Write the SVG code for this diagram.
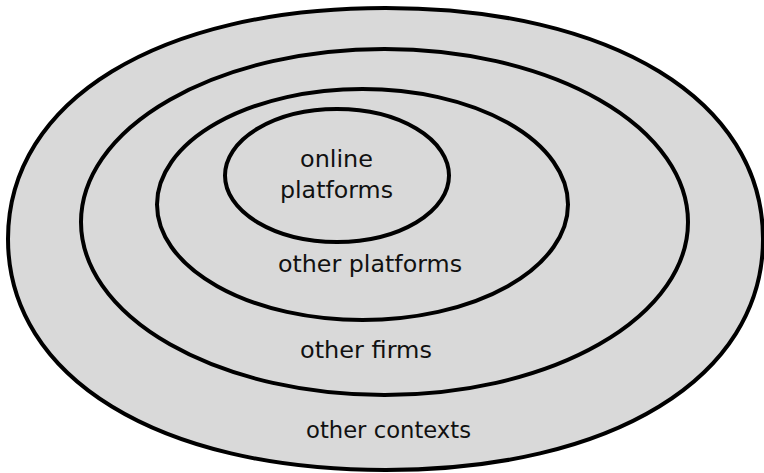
<svg xmlns="http://www.w3.org/2000/svg" width="764" height="473" viewBox="0 0 764 473">
<style>
.ring{fill:#d9d9d9;stroke:#000;stroke-width:4}
.lbl{font-family:"DejaVu Sans","Liberation Sans",sans-serif;font-size:23px;fill:#111;text-anchor:middle}
</style>
<rect width="764" height="473" fill="#fff"/>
<g id="other-contexts">
<path class="ring" d="M763,239 C763,377.6 612,470 385.5,470 C159,470 8,377.6 8,239 C8,100.4 159,8 385.5,8 C612,8 763,100.4 763,239 Z"/>
<text class="lbl" x="388.5" y="438" textLength="165" lengthAdjust="spacingAndGlyphs">other contexts</text>
</g>
<g id="other-firms">
<ellipse class="ring" cx="384.5" cy="222" rx="303.5" ry="173"/>
<text class="lbl" x="366" y="358" textLength="132" lengthAdjust="spacingAndGlyphs">other firms</text>
</g>
<g id="other-platforms">
<ellipse class="ring" cx="362.5" cy="204.5" rx="205.5" ry="115.5"/>
<text class="lbl" x="370" y="272" textLength="184" lengthAdjust="spacingAndGlyphs">other platforms</text>
</g>
<g id="online-platforms">
<ellipse class="ring" cx="337" cy="175.5" rx="112" ry="66.5"/>
<text class="lbl" x="336.5" y="167" textLength="73" lengthAdjust="spacingAndGlyphs">online</text>
<text class="lbl" x="336.5" y="198" textLength="113" lengthAdjust="spacingAndGlyphs">platforms</text>
</g>
<g id="connectors"></g>
</svg>
